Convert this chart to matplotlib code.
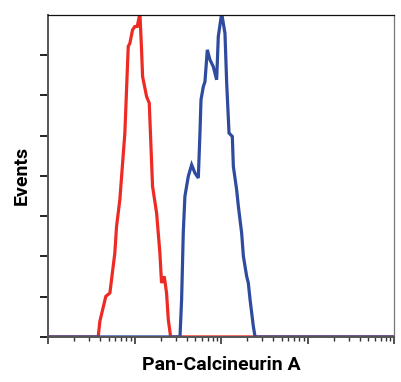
import numpy as np
import matplotlib.pyplot as plt
from matplotlib.ticker import LogLocator, NullFormatter

# log10 of intensity, and event counts (peak scaled to 200)
red_logx = [0.0, 0.579, 0.598, 0.667, 0.714, 0.771, 0.791, 0.829, 0.887, 0.926, 0.945,
            0.976, 1.003, 1.030, 1.061, 1.080, 1.092, 1.138, 1.169, 1.207, 1.254,
            1.292, 1.311, 1.342, 1.369, 1.389, 1.416, 4.0]
red_y = [0, 0, 9.7, 25.2, 27.3, 52.1, 68.7, 85.2, 126.6, 180.4, 182.4,
         190.7, 192.8, 192.8, 201, 178.3, 161.7, 149.3, 145.2, 93.5, 76.9,
         52.1, 33.5, 37.6, 27.3, 10.8, 0, 0]

blue_logx = [0.0, 1.524, 1.543, 1.562, 1.581, 1.620, 1.659, 1.697, 1.736, 1.755, 1.767,
             1.794, 1.813, 1.840, 1.871, 1.909, 1.948, 1.967, 2.006, 2.044, 2.064,
             2.091, 2.129, 2.141, 2.179, 2.199, 2.237, 2.257, 2.295, 2.314, 2.334,
             2.372, 2.392, 4.0]
blue_y = [0, 0, 23.2, 64.5, 87.3, 99.7, 106.9, 101.8, 98.7, 126.6, 147.3,
          155.5, 158.6, 178.3, 172.1, 167.9, 159.7, 186.6, 201, 188.6, 157.6,
          126.6, 124.5, 105.9, 91.4, 81.1, 64.5, 50.1, 37.6, 33.5, 23.2,
          6.6, 0, 0]

xlabel = 'Pan-Calcineurin A'
ylabel = 'Events'

plt.rcParams['font.family'] = ['Roboto', 'DejaVu Sans']

fig = plt.figure(figsize=(4.01, 3.82), dpi=100)
ax = fig.add_axes([0.120, 0.118, 0.863, 0.843])

ax.plot(10 ** np.array(red_logx), red_y, color='#ee2a24', lw=2.3, solid_joinstyle='miter')
ax.plot(10 ** np.array(blue_logx), blue_y, color='#2f4b9f', lw=2.3, solid_joinstyle='miter')

ax.set_xscale('log')
ax.set_xlim(1, 1e4)
ax.set_ylim(0, 200)
ax.xaxis.set_major_locator(LogLocator(base=10, numticks=10))
ax.xaxis.set_minor_locator(LogLocator(base=10, subs=np.arange(2, 10), numticks=10))
ax.xaxis.set_major_formatter(NullFormatter())
ax.xaxis.set_minor_formatter(NullFormatter())
ax.set_yticks(np.arange(0, 200, 25))
ax.set_yticklabels([])

ax.tick_params(axis='x', which='major', direction='out', length=5, width=1.2, color='#333333')
ax.tick_params(axis='x', which='minor', direction='out', length=3, width=1.0, color='#333333')
ax.tick_params(axis='y', which='major', direction='out', length=6, width=1.4, color='#222222')

for side in ['left', 'bottom']:
    ax.spines[side].set_color('#555555')
    ax.spines[side].set_linewidth(1.4)
ax.spines['top'].set_color('#111111')
ax.spines['top'].set_linewidth(0.9)
ax.spines['right'].set_color('#777777')
ax.spines['right'].set_linewidth(0.9)

ax.set_xlabel(xlabel, fontsize=14, fontweight='bold', labelpad=5)
ax.set_ylabel(ylabel, fontsize=14, fontweight='bold', labelpad=3)

fig.savefig('out.png', dpi=100)
